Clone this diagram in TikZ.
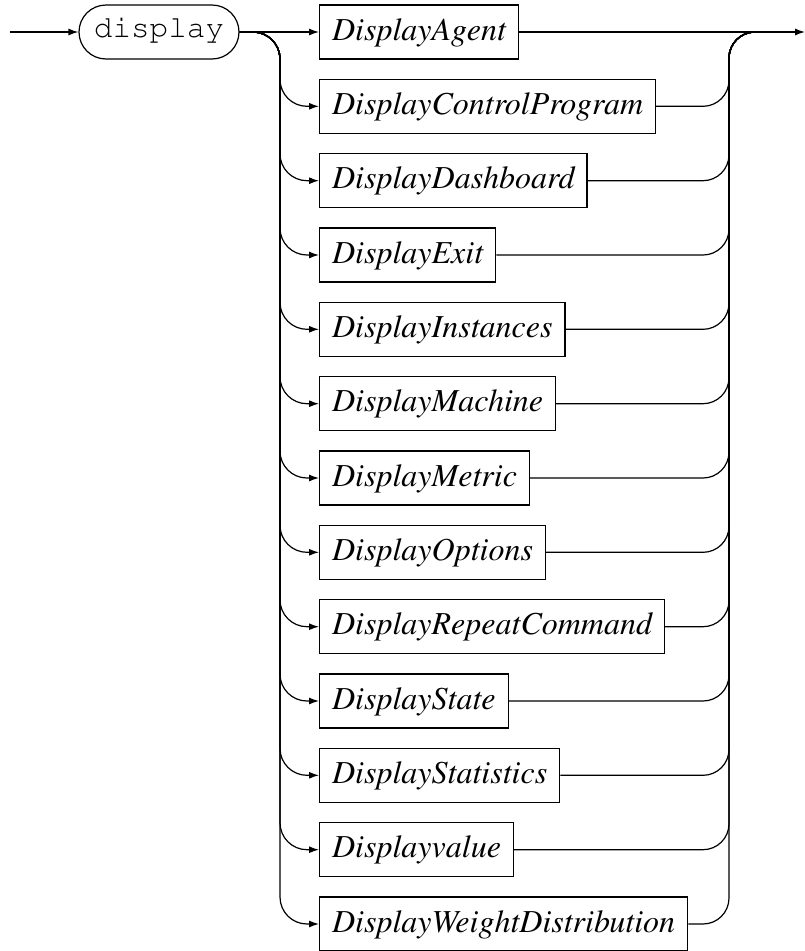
\documentclass[tikz,border=0pt]{standalone}
\usepackage[T1]{fontenc}
\usepackage{fontspec}
\setmainfont{Liberation Serif}
\usetikzlibrary{arrows.meta}
\newcommand{\courierfont}{\fontencoding{T1}\fontfamily{pcr}\selectfont}
\newcommand{\timesitfont}{\fontencoding{T1}\fontfamily{ptm}\fontshape{it}\selectfont}

\begin{document}
\begin{tikzpicture}[x=1pt,y=-1pt,line width=1.2pt,
  >={Latex[length=10pt,width=7pt]},
  nonterm/.style={draw,anchor=west,minimum height=54pt,inner xsep=12.5pt,
    font=\fontsize{32}{36}\timesitfont,text height=23pt,text depth=7pt},
  term/.style={draw,rounded corners=27pt,minimum height=54pt,minimum width=160pt,
    font=\fontsize{31}{36}\courierfont,text height=18pt,text depth=8pt},
  branch/.style={->,rounded corners=27pt},
  merge/.style={rounded corners=26pt}]
\useasboundingbox (0,0) rectangle (805,951);
\coordinate (start) at (10,32); \coordinate (finish) at (805,32);
\coordinate (splitL) at (280,32); \coordinate (joinR) at (729,32); \coordinate (joinE) at (757,32);
\node[term] (disp) at (159,32) {display};
\draw[->] (start) -- (disp.west);
% first choice goes straight through
\node[nonterm] (agent) at (319,32) {DisplayAgent};
\draw[->] (disp.east) -- (agent.west); \draw[->] (agent.east) -- (finish);
% the other choices
\node[nonterm] (ctrl) at (319,106.3) {DisplayControlProgram};
\draw[branch] (disp.east) -- (splitL) |- (ctrl.west); \draw[merge] (ctrl.east) -| (joinR) -- (joinE);
\node[nonterm] (dash) at (319,180.7) {DisplayDashboard};
\draw[branch] (disp.east) -- (splitL) |- (dash.west); \draw[merge] (dash.east) -| (joinR) -- (joinE);
\node[nonterm] (exit) at (319,255) {DisplayExit};
\draw[branch] (disp.east) -- (splitL) |- (exit.west); \draw[merge] (exit.east) -| (joinR) -- (joinE);
\node[nonterm] (inst) at (319,329.3) {DisplayInstances};
\draw[branch] (disp.east) -- (splitL) |- (inst.west); \draw[merge] (inst.east) -| (joinR) -- (joinE);
\node[nonterm] (mach) at (319,403.7) {DisplayMachine};
\draw[branch] (disp.east) -- (splitL) |- (mach.west); \draw[merge] (mach.east) -| (joinR) -- (joinE);
\node[nonterm] (metric) at (319,478) {DisplayMetric};
\draw[branch] (disp.east) -- (splitL) |- (metric.west); \draw[merge] (metric.east) -| (joinR) -- (joinE);
\node[nonterm] (opts) at (319,552.3) {DisplayOptions};
\draw[branch] (disp.east) -- (splitL) |- (opts.west); \draw[merge] (opts.east) -| (joinR) -- (joinE);
\node[nonterm] (repeat) at (319,626.7) {DisplayRepeatCommand};
\draw[branch] (disp.east) -- (splitL) |- (repeat.west); \draw[merge] (repeat.east) -| (joinR) -- (joinE);
\node[nonterm] (state) at (319,701) {DisplayState};
\draw[branch] (disp.east) -- (splitL) |- (state.west); \draw[merge] (state.east) -| (joinR) -- (joinE);
\node[nonterm] (stats) at (319,775.3) {DisplayStatistics};
\draw[branch] (disp.east) -- (splitL) |- (stats.west); \draw[merge] (stats.east) -| (joinR) -- (joinE);
\node[nonterm] (value) at (319,849.7) {Displayvalue};
\draw[branch] (disp.east) -- (splitL) |- (value.west); \draw[merge] (value.east) -| (joinR) -- (joinE);
\node[nonterm] (weight) at (319,924) {DisplayWeightDistribution};
\draw[branch] (disp.east) -- (splitL) |- (weight.west); \draw[merge] (weight.east) -| (joinR) -- (joinE);
\end{tikzpicture}
\end{document}
